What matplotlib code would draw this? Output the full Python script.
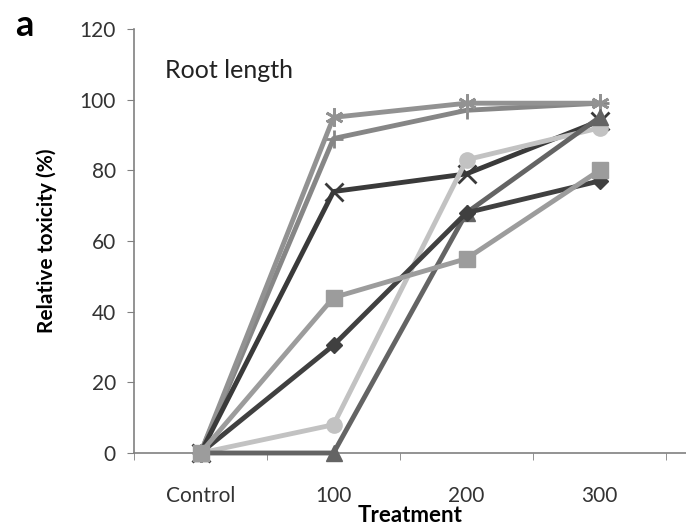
import matplotlib
matplotlib.use("Agg")
import matplotlib.pyplot as plt

plt.rcParams['font.family'] = ['Lato', 'DejaVu Sans']

categories = ["Control", "100", "200", "300"]
s_diamond = [0, 30.5, 68, 77]
s_square = [0, 44, 55, 80]
s_triangle = [0, 0, 68, 95]
s_x = [0, 74, 79, 94]
s_star = [0, 95, 99, 99]
s_circle = [0, 8, 83, 92]
s_plus = [0, 89, 97, 99]

series = [
    (s_plus, '#868686', '+'),
    (s_star, '#929292', (6, 2, 0)),
    (s_x, '#3a3a3a', 'x'),
    (s_circle, '#c2c2c2', 'o'),
    (s_triangle, '#646464', '^'),
    (s_diamond, '#404040', 'D'),
    (s_square, '#9c9c9c', 's'),
]

fig = plt.figure(figsize=(6.86, 5.31), dpi=100)
ax = fig.add_axes([134/686, 1-453/531, 1-134/686, (453-29)/531])

x = list(range(len(categories)))
for vals, col, mk in series:
    ms = 11 if mk in ('s', 'o', '^') else (8 if mk == 'D' else 13)
    ax.plot(x, vals, color=col, lw=3.5, marker=mk, markersize=ms,
            markeredgewidth=2 if mk in ('+', 'x', (6, 2, 0)) else 1,
            markeredgecolor=col, markerfacecolor=col, clip_on=False, zorder=3)

ax.set_xlim(-0.5, 3.65)
ax.set_ylim(0, 120)
ax.set_yticks(range(0, 121, 20))
ax.set_xticks(x)
ax.set_xticklabels(categories)
ax.set_xticks([-0.5, 0.5, 1.5, 2.5, 3.5], minor=True)
ax.tick_params(axis='x', which='major', length=0, labelsize=15, colors='#333333', pad=24)
ax.tick_params(axis='x', which='minor', length=5, color='#808080', direction='out')
ax.tick_params(axis='y', length=5, color='#808080', labelsize=15, labelcolor='#333333', pad=8)
for sp in ['top', 'right']:
    ax.spines[sp].set_visible(False)
for sp in ['left', 'bottom']:
    ax.spines[sp].set_color('#808080')
    ax.spines[sp].set_linewidth(1.2)

ax.set_xlabel("Treatment", fontsize=16, fontweight='bold', labelpad=-1)
ax.set_ylabel("Relative toxicity (%)", fontsize=15, fontweight='bold', labelpad=16)
ax.text(31/552, (453-70)/424, "Root length", transform=ax.transAxes, fontsize=18, color='#222222', va='center')
fig.text(15/686, 1-25/531, "a", fontsize=26, fontweight='bold', va='center')

fig.savefig("out.png", dpi=100)
